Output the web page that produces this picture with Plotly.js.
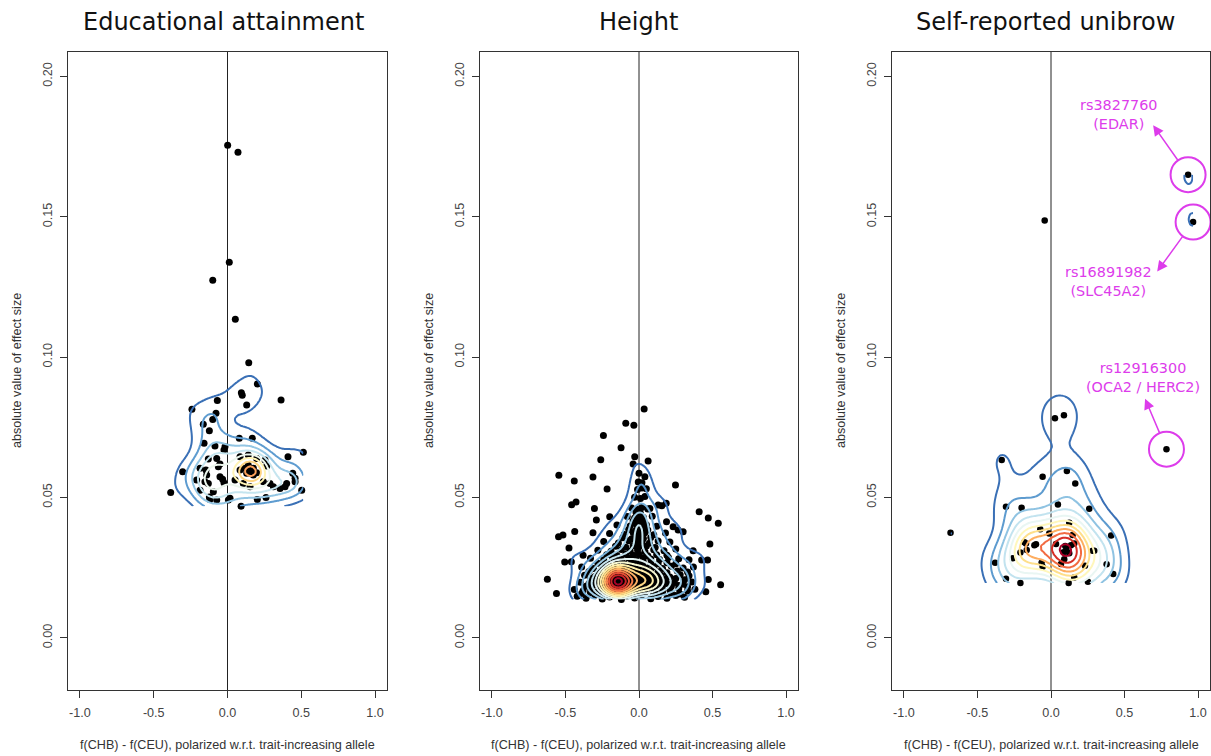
<!DOCTYPE html>
<html><head><meta charset="utf-8">
<script src="https://cdn.plot.ly/plotly-3.0.1.min.js"></script>
<style>html,body{margin:0;padding:0;background:#fff}#chart{width:1211px;height:756px}</style>
</head><body><div id="chart"></div>
<script>
// ---------------- data ----------------
const panelTitles = ["Educational attainment", "Height", "Self-reported unibrow"];
const xTitle = "f(CHB) - f(CEU), polarized w.r.t. trait-increasing allele";
const yTitle = "absolute value of effect size";
const xTickVals = [-1, -0.5, 0, 0.5, 1];
const xTickText = ["-1.0", "-0.5", "0.0", "0.5", "1.0"];
const yTickVals = [0, 0.05, 0.10, 0.15, 0.20];
const yTickText = ["0.00", "0.05", "0.10", "0.15", "0.20"];

const eduX = [0.001,0.071,0.012,-0.100,0.053,0.144,0.202,0.094,0.100,0.363,0.130,-0.069,-0.241,-0.078,-0.164,-0.100,-0.123,0.080,0.168,0.514,
  0.410,-0.159,-0.085,-0.017,-0.024,-0.130,-0.073,-0.051,-0.062,-0.186,-0.146,-0.141,-0.209,-0.153,-0.130,-0.051,-0.033,-0.024,-0.304,-0.385,
  -0.186,-0.096,-0.119,-0.073,-0.123,0.017,0.006,0.092,0.202,0.261,0.085,0.141,0.198,0.254,0.266,0.141,0.175,0.164,0.198,0.175,
  0.130,0.119,0.085,0.051,0.107,0.153,0.243,0.288,0.311,0.356,0.390,0.401,0.442,0.458,0.458,0.503,
  0.155,0.165,0.150,0.170];
const eduY = [0.1755,0.1730,0.1338,0.1274,0.1135,0.0980,0.0904,0.0873,0.0864,0.0847,0.0829,0.0845,0.0814,0.0800,0.0761,0.0778,0.0738,0.0711,0.0711,0.0661,
  0.0645,0.0693,0.0683,0.0681,0.0669,0.0637,0.0639,0.0619,0.0609,0.0604,0.0598,0.0580,0.0562,0.0556,0.0550,0.0574,0.0565,0.0552,0.0592,0.0518,
  0.0526,0.0520,0.0493,0.0491,0.0502,0.0497,0.0491,0.0469,0.0493,0.0500,0.0645,0.0651,0.0639,0.0633,0.0612,0.0615,0.0604,0.0592,0.0588,0.0580,
  0.0586,0.0604,0.0598,0.0562,0.0550,0.0538,0.0556,0.0550,0.0538,0.0532,0.0538,0.0550,0.0586,0.0568,0.0556,0.0526,
  0.0592,0.0600,0.0587,0.0594];

const heightX = [0.035,-0.090,-0.035,-0.242,-0.122,-0.260,-0.029,-0.040,0.062,-0.545,-0.440,-0.313,-0.217,0.000,0.040,0.248,-0.005,0.020,-0.458,-0.428,
  -0.303,0.155,0.185,0.409,0.471,0.539,-0.547,-0.517,-0.437,-0.313,0.482,-0.476,-0.505,-0.460,-0.380,-0.623,-0.561,0.471,0.555,0.454,
  0.368,0.426,0.466,0.300,0.266,-0.199,0.074,0.130,0.187,0.232,-0.290,
  -0.42,-0.36,-0.30,-0.25,-0.20,-0.16,-0.12,-0.08,-0.03,0.02,0.08,0.13,0.19,0.25,0.31,
  -0.44,-0.38,-0.33,-0.28,-0.24,-0.21,-0.18,-0.15,-0.12,-0.09,-0.06,-0.02,0.03,0.07,0.11,0.16,0.21,0.27,0.33,0.38,
  -0.40,-0.34,-0.29,-0.25,-0.22,-0.19,-0.17,-0.15,-0.13,-0.11,-0.08,-0.05,-0.01,0.04,0.09,0.14,0.19,0.24,0.30,0.36,
  -0.37,-0.30,-0.26,-0.22,-0.19,-0.16,-0.13,-0.10,-0.07,-0.03,0.01,0.05,0.10,0.15,0.21,0.28,0.34,
  -0.39,-0.31,-0.25,-0.20,-0.15,-0.11,-0.07,-0.03,0.01,0.05,0.10,0.16,0.22,0.30,0.37,
  -0.33,-0.24,-0.18,-0.12,-0.07,-0.02,0.03,0.08,0.14,0.20,0.27,0.34,
  -0.28,-0.19,-0.12,-0.06,-0.01,0.04,0.10,0.17,0.25,
  -0.24,-0.14,-0.07,-0.02,0.02,0.07,0.13,0.21,
  -0.20,-0.10,-0.04,0.00,0.04,0.10,0.18,
  -0.15,-0.06,-0.02,0.01,0.05,0.12,
  -0.08,-0.03,0.00,0.03,0.09,
  -0.05,-0.01,0.02,0.06,
  -0.03,0.01,0.04,
  -0.01,0.02,0.05,
  -0.18,-0.16,-0.14,-0.12,-0.17,-0.13,-0.15,-0.10,-0.20,-0.08,-0.02,0.02,0.05,0.00,-0.05,-0.19,-0.11,-0.16,-0.22,-0.14,
  -0.39,-0.33,-0.27,-0.22,-0.18,-0.14,-0.10,-0.06,-0.01,0.04,0.10,0.16,0.22,0.28,
  -0.36,-0.31,-0.26,-0.23,-0.20,-0.17,-0.14,-0.12,-0.09,-0.06,-0.03,0.01,0.06,0.11,0.16,0.22,0.27,0.33,
  -0.33,-0.27,-0.23,-0.20,-0.18,-0.15,-0.12,-0.09,-0.06,-0.02,0.03,0.07,0.12,0.18,0.25,0.31,
  -0.34,-0.27,-0.21,-0.17,-0.13,-0.09,-0.05,-0.01,0.03,0.08,0.13,0.19,0.26,0.33,
  -0.28,-0.21,-0.15,-0.10,-0.05,-0.01,0.03,0.08,0.13,0.19,0.25,
  -0.22,-0.15,-0.09,-0.04,0.00,0.06,0.12,0.19,
  -0.16,-0.09,-0.04,0.00,0.05,0.11,
  -0.11,-0.05,-0.01,0.03,0.08,
  -0.07,-0.02,0.02,0.06,
  -0.04,0.00,0.03,
  -0.02,0.01,
  -0.17,-0.15,-0.13,-0.16,-0.14,-0.18,-0.12,-0.10,-0.19,-0.15,-0.13,-0.08,
  0.03,0.06,0.09,0.12,0.04,0.08,0.00,0.11,0.15,0.07];
const heightY = [0.0815,0.0764,0.0757,0.0721,0.0677,0.0634,0.0645,0.0619,0.0630,0.0579,0.0559,0.0573,0.0530,0.0586,0.0574,0.0544,0.0555,0.0552,0.0474,0.0484,
  0.0461,0.0470,0.0479,0.0449,0.0427,0.0408,0.0360,0.0366,0.0379,0.0374,0.0334,0.0320,0.0270,0.0271,0.0294,0.0209,0.0158,0.0208,0.0189,0.0164,
  0.0310,0.0277,0.0277,0.0378,0.0384,0.0431,0.0461,0.0473,0.0413,0.0396,0.0420,
  0.0148,0.0141,0.0152,0.0138,0.0145,0.0155,0.0136,0.0149,0.0142,0.0153,0.0139,0.0147,0.0141,0.0151,0.0144,
  0.0172,0.0168,0.0175,0.0166,0.0178,0.0171,0.0165,0.0174,0.0169,0.0176,0.0167,0.0173,0.0170,0.0177,0.0166,0.0172,0.0169,0.0175,0.0167,0.0173,
  0.0198,0.0193,0.0201,0.0195,0.0190,0.0199,0.0193,0.0197,0.0191,0.0200,0.0194,0.0198,0.0192,0.0199,0.0195,0.0201,0.0193,0.0197,0.0191,0.0199,
  0.0223,0.0218,0.0226,0.0220,0.0224,0.0217,0.0225,0.0221,0.0216,0.0224,0.0219,0.0226,0.0220,0.0223,0.0217,0.0225,0.0221,
  0.0252,0.0247,0.0255,0.0249,0.0253,0.0246,0.0254,0.0250,0.0256,0.0248,0.0253,0.0247,0.0255,0.0249,0.0252,
  0.0283,0.0278,0.0286,0.0280,0.0284,0.0277,0.0285,0.0281,0.0279,0.0286,0.0282,0.0278,
  0.0312,0.0308,0.0315,0.0309,0.0313,0.0307,0.0314,0.0310,0.0316,
  0.0343,0.0338,0.0346,0.0340,0.0344,0.0337,0.0345,0.0341,
  0.0372,0.0368,0.0375,0.0369,0.0374,0.0367,0.0373,
  0.0402,0.0398,0.0405,0.0399,0.0403,0.0397,
  0.0432,0.0427,0.0435,0.0429,0.0433,
  0.0462,0.0457,0.0464,0.0459,
  0.0501,0.0496,0.0503,
  0.0528,0.0534,0.0531,
  0.0196,0.0210,0.0186,0.0206,0.0181,0.0221,0.0204,0.0189,0.0212,0.0215,0.0206,0.0201,0.0210,0.0188,0.0196,0.0183,0.0178,0.0229,0.0205,0.0240,
  0.0158,0.0161,0.0156,0.0162,0.0159,0.0157,0.0163,0.0160,0.0158,0.0162,0.0157,0.0161,0.0159,0.0156,
  0.0184,0.0187,0.0182,0.0186,0.0185,0.0188,0.0183,0.0187,0.0184,0.0186,0.0182,0.0188,0.0185,0.0183,0.0187,0.0184,0.0186,0.0182,
  0.0212,0.0208,0.0214,0.0209,0.0211,0.0213,0.0207,0.0212,0.0209,0.0214,0.0210,0.0208,0.0213,0.0209,0.0211,0.0207,
  0.0236,0.0233,0.0238,0.0234,0.0237,0.0232,0.0236,0.0239,0.0233,0.0237,0.0235,0.0232,0.0238,0.0234,
  0.0266,0.0263,0.0268,0.0264,0.0267,0.0262,0.0269,0.0265,0.0263,0.0267,0.0264,
  0.0296,0.0293,0.0298,0.0294,0.0297,0.0292,0.0296,0.0294,
  0.0326,0.0323,0.0328,0.0324,0.0327,0.0322,
  0.0356,0.0353,0.0358,0.0354,0.0357,
  0.0386,0.0383,0.0388,0.0384,
  0.0416,0.0413,0.0418,
  0.0446,0.0443,
  0.0200,0.0190,0.0198,0.0215,0.0207,0.0209,0.0185,0.0201,0.0192,0.0223,0.0176,0.0192,
  0.0195,0.0201,0.0189,0.0204,0.0215,0.0222,0.0209,0.0183,0.0196,0.0178];

const unibrowX = [-0.683,-0.335,0.027,0.088,0.785,-0.057,0.108,0.165,-0.306,-0.200,0.047,0.260,0.409,0.124,-0.073,-0.012,0.147,0.158,-0.181,-0.113,
  -0.165,-0.208,0.034,0.097,0.124,0.090,0.068,0.283,-0.260,-0.064,-0.057,-0.380,0.231,0.378,0.423,-0.306,-0.208,0.158,0.120,0.251,
  -0.043,0.932,0.966,0.136,-0.170,-0.102,0.294,0.105,0.085];
const unibrowY = [0.0374,0.0633,0.0782,0.0793,0.0672,0.0574,0.0594,0.0550,0.0467,0.0463,0.0475,0.0460,0.0364,0.0410,0.0387,0.0372,0.0366,0.0336,0.0340,0.0330,
  0.0313,0.0304,0.0334,0.0327,0.0301,0.0280,0.0263,0.0310,0.0283,0.0267,0.0253,0.0267,0.0257,0.0262,0.0227,0.0210,0.0195,0.0215,0.0195,0.0200,
  0.1487,0.1650,0.1481,0.0330,0.0336,0.0333,0.0310,0.0315,0.0305];

const labelText = ["rs3827760<br>(EDAR)", "rs16891982<br>(SLC45A2)", "rs12916300<br>(OCA2 / HERC2)"];
const labelX = [0.932, 0.966, 0.785];
const labelY = [0.1650, 0.1481, 0.0672];

// ---------------- styling / geometry (pixels) ----------------
const W = 1211, H = 756;
const boxes = [[68, 387], [480, 798], [892, 1210]];
const boxTop = 52, boxBottom = 690;
const titleCx = [223.5, 638, 1045.5];
const nLevels = [8, 14, 11];
const colorReach = [0.72, 1, 1];
const labelStyle = [
  {tx: -69.5, ty: 59.7, ax: -36, ay: -51},
  {tx: -85, ty: -59, ax: -37, ay: 51},
  {tx: -23, ty: 72, ax: -22, ay: -52}
];
const MAG = "#dd3ceb";
const palette = ["#3a70b6", "#5d9bcf", "#8fc3e2", "#c2e3ef", "#e9f6f3", "#fff7bc", "#fedf8a", "#fdad60", "#f26a41", "#d62f27", "#a50026"];

function hexRgb(h) { return [1, 3, 5].map(i => parseInt(h.substr(i, 2), 16)); }
function paletteAt(f) {
  const t = Math.max(0, Math.min(1, f)) * (palette.length - 1);
  const i = Math.min(Math.floor(t), palette.length - 2), u = t - i;
  const a = hexRgb(palette[i]), b = hexRgb(palette[i + 1]);
  return "rgb(" + a.map((v, j) => Math.round(v + (b[j] - v) * u)).join(",") + ")";
}

// ---------------- KDE (MASS::kde2d style) ----------------
function quantile(s, p) { const h = (s.length - 1) * p, lo = Math.floor(h); const hi = Math.min(lo + 1, s.length - 1); return s[lo] + (h - lo) * (s[hi] - s[lo]); }
function bwNrd(v) {
  const n = v.length, m = v.reduce((a, b) => a + b, 0) / n;
  const sd = Math.sqrt(v.reduce((a, b) => a + (b - m) * (b - m), 0) / (n - 1));
  const s = [...v].sort((a, b) => a - b);
  const iqr = quantile(s, 0.75) - quantile(s, 0.25);
  return 4 * 1.06 * Math.min(sd, iqr / 1.34) * Math.pow(n, -0.2);
}
function kde2d(xs, ys, ng) {
  const hx = bwNrd(xs) / 4, hy = bwNrd(ys) / 4, n = xs.length;
  const x0 = Math.min(...xs), x1 = Math.max(...xs), y0 = Math.min(...ys), y1 = Math.max(...ys);
  const gx = [], gy = [];
  for (let i = 0; i < ng; i++) { gx.push(x0 + (x1 - x0) * i / (ng - 1)); gy.push(y0 + (y1 - y0) * i / (ng - 1)); }
  const ex = gx.map(g => xs.map(x => Math.exp(-0.5 * ((g - x) / hx) ** 2)));
  const ey = gy.map(g => ys.map(y => Math.exp(-0.5 * ((g - y) / hy) ** 2)));
  const norm = n * 2 * Math.PI * hx * hy;
  const z = gy.map((_, j) => gx.map((_, i) => { let s = 0; const a = ex[i], b = ey[j]; for (let k = 0; k < n; k++) s += a[k] * b[k]; return s / norm; }));
  return {gx, gy, z};
}

const panels = [[eduX, eduY], [heightX, heightY], [unibrowX, unibrowY]];
const markerSizes = [7, 7, 6.5];
const traces = [];
const layout = {
  width: W, height: H, margin: {l: 0, r: 0, t: 0, b: 0}, paper_bgcolor: "#fff", plot_bgcolor: "#fff",
  showlegend: false, hovermode: false, shapes: [], annotations: [],
  font: {family: "Liberation Sans, Arial, sans-serif", color: "#333"}
};
const yDom = [1 - boxBottom / H, 1 - boxTop / H];
const xRange = [-1.081, 1.081], yRange = [-0.0186, 0.2087];

panels.forEach(([xs, ys], p) => {
  const k = p + 1, k2 = p + 4;
  const xa = "xaxis" + (k === 1 ? "" : k), ya = "yaxis" + (k === 1 ? "" : k);
  const xid = "x" + (k === 1 ? "" : k), yid = "y" + (k === 1 ? "" : k);
  const dom = [boxes[p][0] / W, boxes[p][1] / W];
  layout[xa] = {domain: dom, range: xRange, anchor: yid, showgrid: false, zeroline: false, showline: true, mirror: true,
    linecolor: "#333", linewidth: 1.2, ticks: "outside", ticklen: 7, tickcolor: "#333", tickwidth: 1,
    tickvals: xTickVals, ticktext: xTickText, tickfont: {size: 12.6, color: "#444"}, ticklabelstandoff: 4, fixedrange: true};
  layout[ya] = {domain: yDom, range: yRange, anchor: xid, showgrid: false, zeroline: false, showline: true, mirror: true,
    linecolor: "#333", linewidth: 1.2, ticks: "outside", ticklen: 7, tickcolor: "#333", tickwidth: 1,
    tickvals: yTickVals, ticktext: yTickText, tickangle: -90, tickfont: {size: 12.6, color: "#444"}, ticklabelstandoff: 3, fixedrange: true};
  layout["xaxis" + k2] = {domain: dom, range: xRange, overlaying: xid, anchor: "y" + k2, visible: false, fixedrange: true};
  layout["yaxis" + k2] = {domain: yDom, range: yRange, overlaying: yid, anchor: "x" + k2, visible: false, fixedrange: true};

  traces.push({type: "scatter", mode: "markers", x: xs, y: ys, xaxis: xid, yaxis: yid,
    marker: {color: "#000", size: markerSizes[p]}, hoverinfo: "skip", cliponaxis: true});

  const kd = kde2d(xs, ys, 100);
  let zmax = 0; kd.z.forEach(r => r.forEach(v => { if (v > zmax) zmax = v; }));
  const N = nLevels[p];
  const step = zmax / (N + 0.35);
  const cs = [];
  for (let i = 0; i < N; i++) cs.push([i / (N - 1), paletteAt(colorReach[p] * i / (N - 1))]);
  traces.push({type: "contour", x: kd.gx, y: kd.gy, z: kd.z, xaxis: "x" + k2, yaxis: "y" + k2,
    autocontour: false, contours: {coloring: "lines", start: step, end: step * N, size: step, showlabels: false},
    line: {width: 2, smoothing: 1}, colorscale: cs, showscale: false, hoverinfo: "skip"});

  layout.shapes.push({type: "line", xref: xid, yref: yid + " domain", x0: 0, x1: 0, y0: 0, y1: 1,
    line: {color: "#222", width: 1}, layer: "below"});

  const cx = (boxes[p][0] + boxes[p][1]) / 2;
  layout.annotations.push({xref: "paper", yref: "paper", x: titleCx[p] / W, y: 1 - 22 / H, xanchor: "center", yanchor: "middle",
    text: panelTitles[p], showarrow: false, font: {family: "DejaVu Sans, sans-serif", size: 24, color: "#111"}});
  layout.annotations.push({xref: "paper", yref: "paper", x: cx / W, y: 1 - 745 / H, xanchor: "center", yanchor: "middle",
    text: xTitle, showarrow: false, font: {size: 12.6, color: "#333"}});
  layout.annotations.push({xref: "paper", yref: "paper", x: (boxes[p][0] - 51) / W, y: 1 - ((boxTop + boxBottom) / 2) / H,
    xanchor: "center", yanchor: "middle", textangle: -90, text: yTitle, showarrow: false, font: {size: 12.6, color: "#333"}});
});

// labelled points on the unibrow panel
labelText.forEach((t, i) => {
  const st = labelStyle[i];
  layout.shapes.push({type: "circle", xref: "x3", yref: "y3", xsizemode: "pixel", ysizemode: "pixel",
    xanchor: labelX[i], yanchor: labelY[i], x0: -17.5, x1: 17.5, y0: -17.5, y1: 17.5,
    line: {color: MAG, width: 2}, fillcolor: "rgba(0,0,0,0)"});
  layout.annotations.push({xref: "x3", yref: "y3", x: labelX[i], y: labelY[i], xshift: st.tx, yshift: st.ty,
    text: t, showarrow: false, xanchor: "center", yanchor: "middle",
    font: {family: "DejaVu Sans, sans-serif", size: 14.4, color: MAG}});
  layout.annotations.push({xref: "x3", yref: "y3", x: labelX[i], y: labelY[i], ax: st.ax, ay: st.ay,
    text: "", showarrow: true, arrowside: "start", startarrowhead: 2, startarrowsize: 1.4, arrowwidth: 1.5,
    arrowcolor: MAG, standoff: 18, startstandoff: 0});
});

Plotly.newPlot("chart", traces, layout, {staticPlot: true, displayModeBar: false});
</script>
</body></html>
